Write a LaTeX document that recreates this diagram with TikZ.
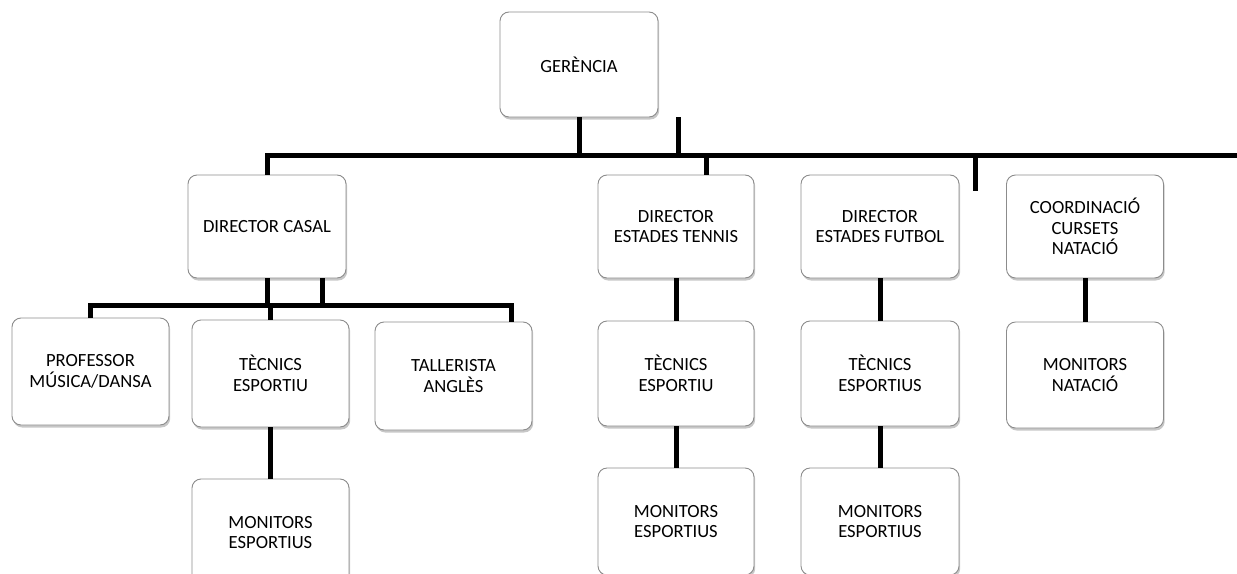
\documentclass[tikz,border=0pt]{standalone}
\usepackage{fontspec}
\setmainfont{Carlito}
\usetikzlibrary{shadows}
\tikzset{
  orgbox/.style={draw=black!45, line width=0.9pt, fill=white, rounded corners=9pt,
    align=center, inner sep=2pt, font=\fontsize{18.6}{20.5}\selectfont,
    drop shadow={shadow xshift=1.2pt, shadow yshift=-2.5pt, fill=black, opacity=0.22}},
  link/.style={line width=5pt, black}
}
\begin{document}
\begin{tikzpicture}[x=1pt,y=-1pt]
\useasboundingbox (0,0) rectangle (1237,573);
\clip (0,0) rectangle (1237,573);
% boxes
\node[orgbox, minimum width=158pt, minimum height=105pt] (ger) at (579,64.5) {GERÈNCIA};
\node[orgbox, minimum width=158pt, minimum height=103pt] (casal) at (267,226.5) {DIRECTOR CASAL};
\node[orgbox, minimum width=156pt, minimum height=103pt] (tennis) at (676,226.5) {DIRECTOR\\ESTADES TENNIS};
\node[orgbox, minimum width=158pt, minimum height=103pt] (futbol) at (880,226.5) {DIRECTOR\\ESTADES FUTBOL};
\node[orgbox, minimum width=157pt, minimum height=103pt] (coord) at (1085,226.5) {COORDINACIÓ\\CURSETS\\NATACIÓ};
\node[orgbox, minimum width=157pt, minimum height=107pt] (prof) at (90.5,371.5) {PROFESSOR\\MÚSICA/DANSA};
\node[orgbox, minimum width=157pt, minimum height=107pt] (tec1) at (270.5,373.5) {TÈCNICS\\ESPORTIU};
\node[orgbox, minimum width=157pt, minimum height=108pt] (tall) at (453.5,376) {TALLERISTA\\ANGLÈS};
\node[orgbox, minimum width=157pt, minimum height=107pt] (mon1) at (270.5,532.5) {MONITORS\\ESPORTIUS};
\node[orgbox, minimum width=156pt, minimum height=105pt] (tec2) at (676,373.5) {TÈCNICS\\ESPORTIU};
\node[orgbox, minimum width=156pt, minimum height=107pt] (mon2) at (676,521.5) {MONITORS\\ESPORTIUS};
\node[orgbox, minimum width=158pt, minimum height=105pt] (tec3) at (880,373.5) {TÈCNICS\\ESPORTIUS};
\node[orgbox, minimum width=158pt, minimum height=107pt] (mon3) at (880,521.5) {MONITORS\\ESPORTIUS};
\node[orgbox, minimum width=157pt, minimum height=106pt] (monn) at (1085,375) {MONITORS\\NATACIÓ};
% junction coordinates
\coordinate (barL) at (267,155);
\coordinate (barR) at (1237,155);
\coordinate (stubA) at (678,117);
\coordinate (stubAb) at (678,155);
\coordinate (tenJ) at (706,155);
\coordinate (stubB) at (975,155);
\coordinate (stubBb) at (975,191);
\coordinate (cA) at (267,278);
\coordinate (cAb) at (267,305);
\coordinate (cB) at (322,278);
\coordinate (cBb) at (322,305);
\coordinate (subL) at (90,305);
\coordinate (subR) at (511,305);
% connectors
\draw[link] (ger.south) -- (ger.south |- barL);
\draw[link] (stubA) -- (stubAb);
\draw[link, line cap=rect] (barL) -- (barR);
\draw[link] (barL) -- (casal.north);
\draw[link] (tenJ) -- (tenJ |- tennis.north);
\draw[link] (stubB) -- (stubBb);
\draw[link] (cA) -- (cAb);
\draw[link] (cB) -- (cBb);
\draw[link, line cap=rect] (subL) -- (subR);
\draw[link] (subL) -- (subL |- prof.north);
\draw[link] (tec1.north |- subL) -- (tec1.north);
\draw[link] (subR) -- (subR |- tall.north);
\draw[link] (tec1.south) -- (mon1.north);
\draw[link] (tennis.south) -- (tec2.north);
\draw[link] (tec2.south) -- (mon2.north);
\draw[link] (futbol.south) -- (tec3.north);
\draw[link] (tec3.south) -- (mon3.north);
\draw[link] (coord.south) -- (monn.north);
\end{tikzpicture}
\end{document}
